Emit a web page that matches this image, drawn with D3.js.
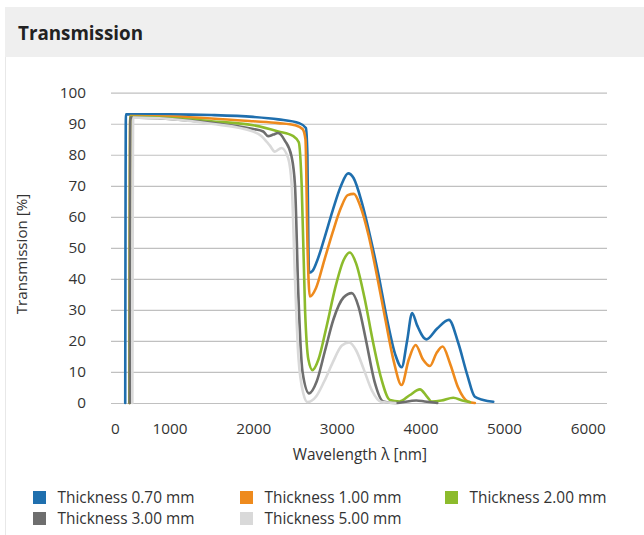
<!DOCTYPE html>
<html>
<head>
<meta charset="utf-8">
<script src="https://cdn.jsdelivr.net/npm/d3@7/dist/d3.min.js"></script>
<style>
  html, body { margin: 0; padding: 0; background: #fff; }
  svg { display: block; font-family: "Open Sans", "Noto Sans", sans-serif; }
</style>
</head>
<body>
<svg id="chart" width="644" height="535"></svg>
<script>
// Transmission spectra of the glass at five thicknesses: [wavelength nm, transmission %]
const seriesNames = ["Thickness 0.70 mm", "Thickness 1.00 mm", "Thickness 2.00 mm", "Thickness 3.00 mm", "Thickness 5.00 mm"];
const seriesColors = ["#1f6fae", "#ee8a1d", "#8cbb2c", "#6e6e6e", "#d9d9d9"];

const t070 = [[470,0],[478,93],[1000,93],[1500,92.8],[2000,92.2],[2300,91.4],[2550,90.2],[2630,88.6],[2648,80],[2660,50],[2668,42],[2710,42.6],[2760,45.5],[2850,53],[2950,62],[3050,70],[3135,74],[3200,72.5],[3300,64.5],[3400,53.5],[3500,41],[3600,27],[3700,15.5],[3775,11.5],[3840,20],[3900,29],[3960,25],[4070,20.5],[4200,24],[4340,26.8],[4450,19.5],[4560,9],[4650,2],[4750,1],[4870,0.4]];
const t100 = [[520,0],[530,92.5],[1000,92.3],[1500,91.7],[2000,90.8],[2300,90.2],[2500,89.5],[2590,88.3],[2625,85],[2650,50],[2677,34.3],[2750,37],[2850,46],[2950,55],[3050,63],[3130,67],[3204,67.4],[3280,63.5],[3380,54],[3480,41],[3580,27],[3680,13.5],[3774,5.8],[3860,14],[3942,18.7],[4030,14],[4113,11.9],[4190,16],[4265,18.2],[4350,13],[4450,5],[4571,0.4],[4650,0]];
const t200 = [[522,0],[530,92.2],[1000,91.8],[1500,90.8],[2000,89.5],[2300,87.5],[2480,86],[2545,84],[2580,70],[2620,30],[2660,14],[2709,10.6],[2780,14],[2880,25],[2980,37],[3080,46],[3155,48.5],[3230,45],[3330,34],[3430,20],[3530,8],[3634,1],[3750,0.5],[3870,2.5],[3993,4.4],[4080,2],[4133,0.5],[4250,0.8],[4392,1.7],[4500,0.8],[4591,0.3]];
const t300 = [[524,0],[532,92],[1000,91.5],[1500,90.3],[2000,88.3],[2120,87.5],[2178,86],[2240,86.5],[2297,87],[2380,84.5],[2458,79.5],[2500,70],[2540,35],[2590,10],[2669,3.1],[2760,7],[2860,17],[2960,27],[3080,34],[3180,35.4],[3260,31],[3350,20],[3450,7],[3554,0.5],[3700,0],[3950,0.8],[4050,0.5],[4200,0]];
const t500 = [[555,0],[565,92],[1000,91.5],[1500,90],[2000,87.5],[2100,86],[2198,83],[2258,81],[2338,82.2],[2417,79],[2461,70],[2500,40],[2540,15],[2600,3],[2650,0.3],[2750,2],[2850,7],[2950,13],[3060,18.5],[3147,19.5],[3230,17],[3320,11],[3420,4],[3535,0.3],[3700,0]];
const seriesData = [t070, t100, t200, t300, t500];

const xTicks = [0, 1000, 2000, 3000, 4000, 5000, 6000];
const yTicks = [0, 10, 20, 30, 40, 50, 60, 70, 80, 90, 100];

const svg = d3.select("#chart");
const W = 644, H = 535;

// Panel: header band with title, bordered body below
svg.append("rect").attr("x", 5.5).attr("y", 7.5).attr("width", W).attr("height", H)
  .attr("fill", "#fff").attr("stroke", "#e8e8e8");
svg.append("rect").attr("x", 5).attr("y", 7).attr("width", W).attr("height", 50).attr("fill", "#efefef");
svg.append("text").attr("x", 18).attr("y", 40).text("Transmission")
  .attr("font-size", 18.8).attr("font-weight", 700).attr("fill", "#222");

const plot = { left: 111, right: 607, top: 92.7, bottom: 403 };
const x = d3.scaleLinear().domain([300, 6230]).range([plot.left, plot.right]);
const y = d3.scaleLinear().domain([0, 100]).range([plot.bottom, plot.top]);

// Horizontal gridlines with value labels
const yAxis = svg.append("g").attr("transform", `translate(${plot.left},0)`)
  .call(d3.axisLeft(y).tickValues(yTicks).tickSize(-(plot.right - plot.left)).tickPadding(25));
yAxis.select(".domain").remove();
yAxis.selectAll(".tick line").attr("stroke", "#c0c0c0").attr("stroke-width", 1.2);
yAxis.selectAll(".tick text").attr("font-size", 15.3).attr("fill", "#333")
  .attr("font-family", "'Open Sans', 'Noto Sans', sans-serif");

// Wavelength axis; a label that would fall left of the plot is justified to its edge
const xAxis = svg.append("g").attr("transform", `translate(0,${plot.bottom})`)
  .call(d3.axisBottom(x).tickValues(xTicks).tickSize(0).tickPadding(20).tickFormat(d3.format("d")));
xAxis.select(".domain").remove();
xAxis.selectAll(".tick text").attr("font-size", 15.3).attr("fill", "#333")
  .attr("font-family", "'Open Sans', 'Noto Sans', sans-serif");
xAxis.selectAll(".tick").each(function(d) {
  if (x(d) < plot.left) {
    d3.select(this).attr("transform", `translate(${plot.left},0)`)
      .select("text").attr("text-anchor", "start");
  }
});

// Axis titles
svg.append("text").attr("transform", "translate(27,254) rotate(-90)")
  .attr("text-anchor", "middle").attr("font-size", 15.2).attr("fill", "#333")
  .text("Transmission [%]");
svg.append("text").attr("x", 360).attr("y", 460)
  .attr("text-anchor", "middle").attr("font-size", 15.4).attr("fill", "#333")
  .text("Wavelength λ [nm]");

// Spectra
const line = d3.line().x(d => x(d[0])).y(d => y(d[1])).curve(d3.curveMonotoneX);
svg.append("g").selectAll("path").data(seriesData).join("path")
  .attr("d", line)
  .attr("fill", "none")
  .attr("stroke", (d, i) => seriesColors[i])
  .attr("stroke-width", 2.6)
  .attr("stroke-linejoin", "round")
  .attr("stroke-linecap", "round");

// Legend: three entries per row
const legendCols = [33, 240, 445];
const legendRows = [491, 512];
const legend = svg.append("g").selectAll("g").data(seriesNames).join("g")
  .attr("transform", (d, i) => `translate(${legendCols[i % 3]},${legendRows[Math.floor(i / 3)]})`);
legend.append("rect").attr("width", 13).attr("height", 13).attr("fill", (d, i) => seriesColors[i]);
legend.append("text").attr("x", 24.5).attr("y", 11.5).attr("font-size", 15.4).attr("fill", "#333")
  .text(d => d);
</script>
</body>
</html>
